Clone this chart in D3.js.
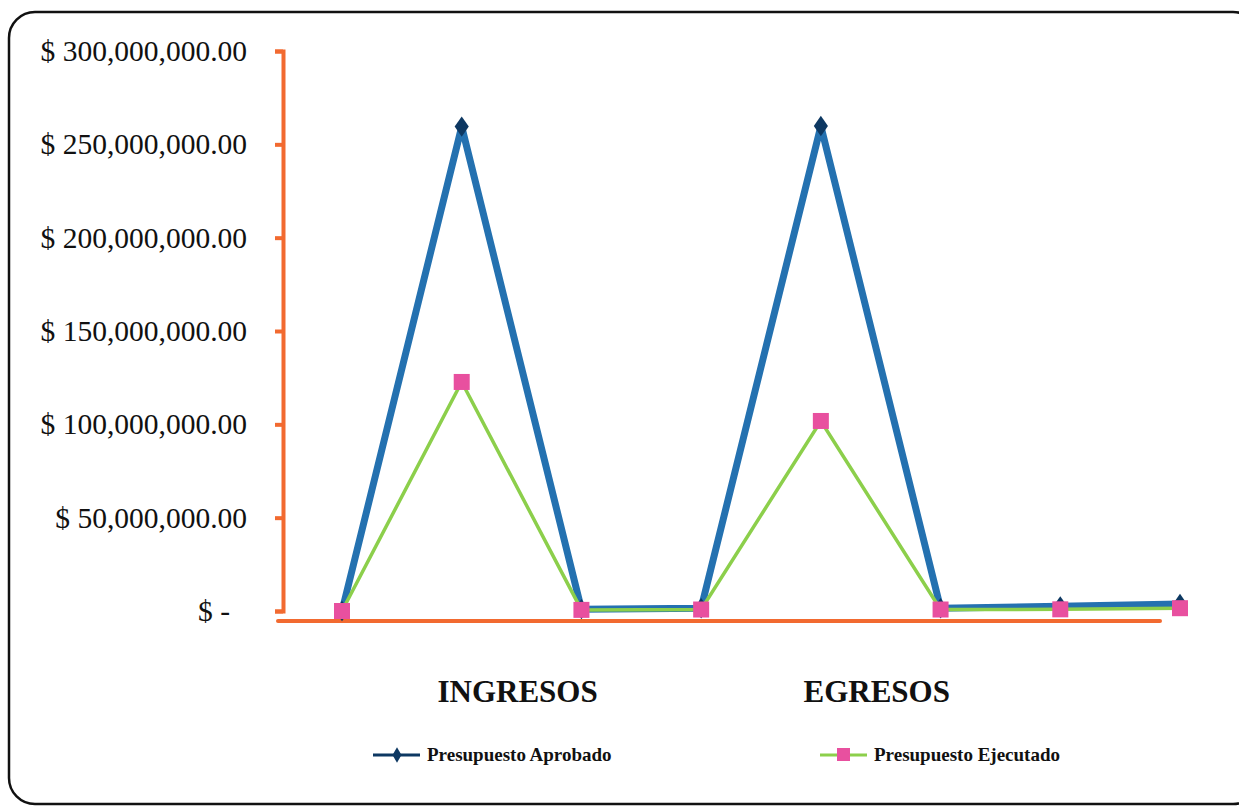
<!DOCTYPE html>
<html>
<head>
<meta charset="utf-8">
<script src="https://cdn.jsdelivr.net/npm/d3@7"></script>
<style>
  body { margin: 0; background: #fff; }
  text { font-family: "Liberation Serif", "DejaVu Serif", serif; }
</style>
</head>
<body>
<div id="chart"></div>
<script>
// data
var categories = ["1", "2", "3", "4", "5", "6", "7", "8"];
var aprobado = [0, 259500000, 1000000, 1500000, 259800000, 1500000, 2500000, 3800000];
var ejecutado = [0, 122700000, 600000, 800000, 101800000, 800000, 900000, 1500000];
var groupLabels = ["INGRESOS", "EGRESOS"];
var groupSpans = [[1, 2], [4, 5]];   // category indexes each label sits between
var yTicks = [0, 50000000, 100000000, 150000000, 200000000, 250000000, 300000000];
var seriesNames = ["Presupuesto Aprobado", "Presupuesto Ejecutado"];

var W = 1239, H = 806;

function init() {
    var svg = d3.select("#chart")
        .append("svg")
        .attr("width", W)
        .attr("height", H);

    // rounded frame
    svg.append("rect")
        .attr("x", 9).attr("y", 12)
        .attr("width", 1250).attr("height", 792)
        .attr("rx", 26).attr("ry", 26)
        .attr("fill", "none")
        .attr("stroke", "#111")
        .attr("stroke-width", 2.5);

    var x = d3.scalePoint()
        .domain(categories)
        .range([342, 1180]);

    var y = d3.scaleLinear()
        .domain([0, 300000000])
        .range([611, 51]);

    var fmt = d3.format(",.2f");

    // Y axis
    var yAxis = svg.append("g")
        .attr("transform", "translate(283,0)")
        .call(d3.axisLeft(y)
            .tickValues(yTicks)
            .tickSize(8)
            .tickPadding(28)
            .tickFormat(function (d) { return d === 0 ? "$ -" : "$ " + fmt(d); }));
    yAxis.select(".domain").attr("stroke", "#f26a30").attr("stroke-width", 4);
    yAxis.selectAll(".tick line").attr("stroke", "#f26a30").attr("stroke-width", 4);
    yAxis.selectAll(".tick text")
        .attr("fill", "#111")
        .attr("dx", function (d) { return d === 0 ? -17 : 0; })
        .style("font-size", "29.5px")
        .style("font-family", "'Liberation Serif', serif");

    // X axis line (sits a little under zero in the original)
    svg.append("line")
        .attr("x1", 278).attr("x2", 1160)
        .attr("y1", y(0) + 10).attr("y2", y(0) + 10)
        .attr("stroke", "#f26a30")
        .attr("stroke-width", 4)
        .attr("stroke-linecap", "round");

    // group labels
    svg.selectAll(".group")
        .data(groupLabels)
        .enter()
        .append("text")
        .attr("x", function (d, i) {
            return (x(categories[groupSpans[i][0]]) + x(categories[groupSpans[i][1]])) / 2 - 4;
        })
        .attr("y", 702)
        .attr("text-anchor", "middle")
        .style("font-size", "31px")
        .style("font-weight", "bold")
        .attr("fill", "#111")
        .text(function (d) { return d; });

    var line = d3.line()
        .x(function (d, i) { return x(categories[i]); })
        .y(function (d) { return y(d); });

    // Aprobado
    svg.append("path")
        .datum(aprobado)
        .attr("d", line)
        .attr("fill", "none")
        .attr("stroke", "#2471b0")
        .attr("stroke-width", 7)
        .attr("stroke-linejoin", "miter");

    svg.selectAll(".dia")
        .data(aprobado)
        .enter()
        .append("path")
        .attr("d", d3.symbol().type(d3.symbolDiamond).size(120))
        .attr("transform", function (d, i) {
            return "translate(" + x(categories[i]) + "," + y(d) + ") scale(1.2,1)";
        })
        .attr("fill", "#0d3862");

    // Ejecutado
    svg.append("path")
        .datum(ejecutado)
        .attr("d", line)
        .attr("fill", "none")
        .attr("stroke", "#8ccf4b")
        .attr("stroke-width", 3.5);

    svg.selectAll(".sq")
        .data(ejecutado)
        .enter()
        .append("rect")
        .attr("x", function (d, i) { return x(categories[i]) - 8; })
        .attr("y", function (d) { return y(d) - 8; })
        .attr("width", 16).attr("height", 16)
        .attr("fill", "#e8509f");

    // legend
    var leg = [
        {x: 373, line: "#0d3862", lw: 3, mark: "diamond", color: "#0d3862"},
        {x: 820, line: "#8ccf4b", lw: 3, mark: "square", color: "#e8509f"}
    ];
    leg.forEach(function (l, i) {
        var g = svg.append("g").attr("transform", "translate(" + l.x + ",755)");
        g.append("line").attr("x1", 0).attr("x2", 47)
            .attr("stroke", l.line).attr("stroke-width", l.lw);
        if (l.mark === "diamond") {
            g.append("path")
                .attr("d", d3.symbol().type(d3.symbolDiamond).size(70))
                .attr("transform", "translate(24,0)")
                .attr("fill", l.color);
        } else {
            g.append("rect").attr("x", 17).attr("y", -7)
                .attr("width", 13).attr("height", 13)
                .attr("fill", l.color);
        }
        g.append("text")
            .attr("x", 54).attr("y", 6)
            .style("font-size", "19px")
            .style("font-weight", "bold")
            .attr("fill", "#111")
            .text(seriesNames[i]);
    });
}
init();
</script>
</body>
</html>
